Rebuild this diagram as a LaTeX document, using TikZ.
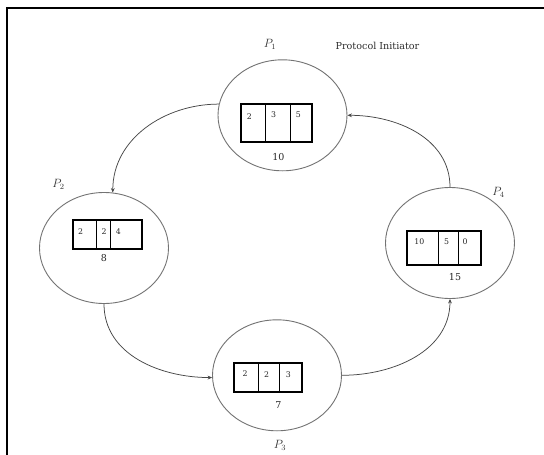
\documentclass[tikz,border=0pt]{standalone}
\usepackage{fontspec}
\setmainfont{DejaVu Serif}
\usetikzlibrary{shapes.geometric,arrows.meta}

\begin{document}
\begin{tikzpicture}[x=1pt,y=1pt,
  proc/.style={ellipse,draw=black!55,line width=0.9pt,
    minimum width=129pt,minimum height=111pt,inner sep=0pt},
  flow/.style={draw=black!72,line width=0.75pt,
    -{Stealth[length=4.5pt,width=3.8pt]}},
  regframe/.style={draw=black,line width=1.7pt},
  regsep/.style={draw=black,line width=0.7pt},
  cellval/.style={font=\fontsize{7.8}{9}\selectfont,text=black!85,inner sep=0pt},
  sumval/.style={font=\fontsize{9.5}{11}\selectfont,text=black!85,inner sep=0pt},
  plabel/.style={font=\fontsize{12}{14}\selectfont,text=black!80,inner sep=0pt}]

\useasboundingbox (0,0) rectangle (544,-455);
\path[fill=white] (0,0) rectangle (544,-455);

% outer frame (left and top edges)
\draw[line width=2pt] (7,-455) -- (7,-7.7) -- (543.5,-7.7);

% processes
\node[proc] (p1) at (282.5,-115.3) {};
\node[proc] (p2) at (104,-248) {};
\node[proc] (p4) at (450,-243) {};
\node[proc] (p3) at (277,-375.3) {};

% process labels
\node[plabel] (l1) at (270,-44.5) {$P_1$};
\node[plabel] (l2) at (58.5,-184.5) {$P_2$};
\node[plabel] (l4) at (498.5,-192.5) {$P_4$};
\node[plabel] (l3) at (280,-445) {$P_3$};
\node[font=\fontsize{9.6}{11}\selectfont,text=black!82,inner sep=0pt] (init) at (377.5,-45.5) {Protocol Initiator};

% register of P1
\draw[regframe] (241,-104) rectangle (312.3,-142.3);
\draw[regsep] (265.7,-104) -- (265.7,-142.3) (290,-104) -- (290,-142.3);
\node[cellval] (a1) at (249.3,-116.5) {2};
\node[cellval] (a2) at (273.5,-115) {3};
\node[cellval] (a3) at (298.3,-115) {5};
\node[sumval] (s1) at (278.3,-156.7) {10};

% register of P2
\draw[regframe] (73.3,-220) rectangle (141.7,-249.3);
\draw[regsep] (96.7,-220) -- (96.7,-249.3) (110,-220) -- (110,-249.3);
\node[cellval] (b1) at (80.7,-231.5) {2};
\node[cellval] (b2) at (104,-231.5) {2};
\node[cellval] (b3) at (118.3,-231.5) {4};
\node[sumval] (s2) at (104,-258.3) {8};

% register of P4
\draw[regframe] (407.3,-230.7) rectangle (481,-265.3);
\draw[regsep] (438.3,-230.7) -- (438.3,-265.3) (458.3,-230.7) -- (458.3,-265.3);
\node[cellval] (c1) at (419.3,-241.7) {10};
\node[cellval] (c2) at (446.7,-241.7) {5};
\node[cellval] (c3) at (465,-241.7) {0};
\node[sumval] (s4) at (455,-277) {15};

% register of P3
\draw[regframe] (234,-363.3) rectangle (301.7,-391.7);
\draw[regsep] (258.3,-363.3) -- (258.3,-391.7) (279.3,-363.3) -- (279.3,-391.7);
\node[cellval] (d1) at (245,-374) {2};
\node[cellval] (d2) at (266.7,-374.5) {2};
\node[cellval] (d3) at (288.3,-374.3) {3};
\node[sumval] (s3) at (278.3,-405) {7};

% token ring
\draw[flow] (p1.170) to[out=180,in=90] (p2.81);
\draw[flow] (p2.south) to[out=-90,in=180] (p3.182);
\draw[flow] (p3.east) to[out=0,in=-90] (p4.south);
\draw[flow] (p4.north) to[out=90,in=0] (p1.east);

\end{tikzpicture}
\end{document}
